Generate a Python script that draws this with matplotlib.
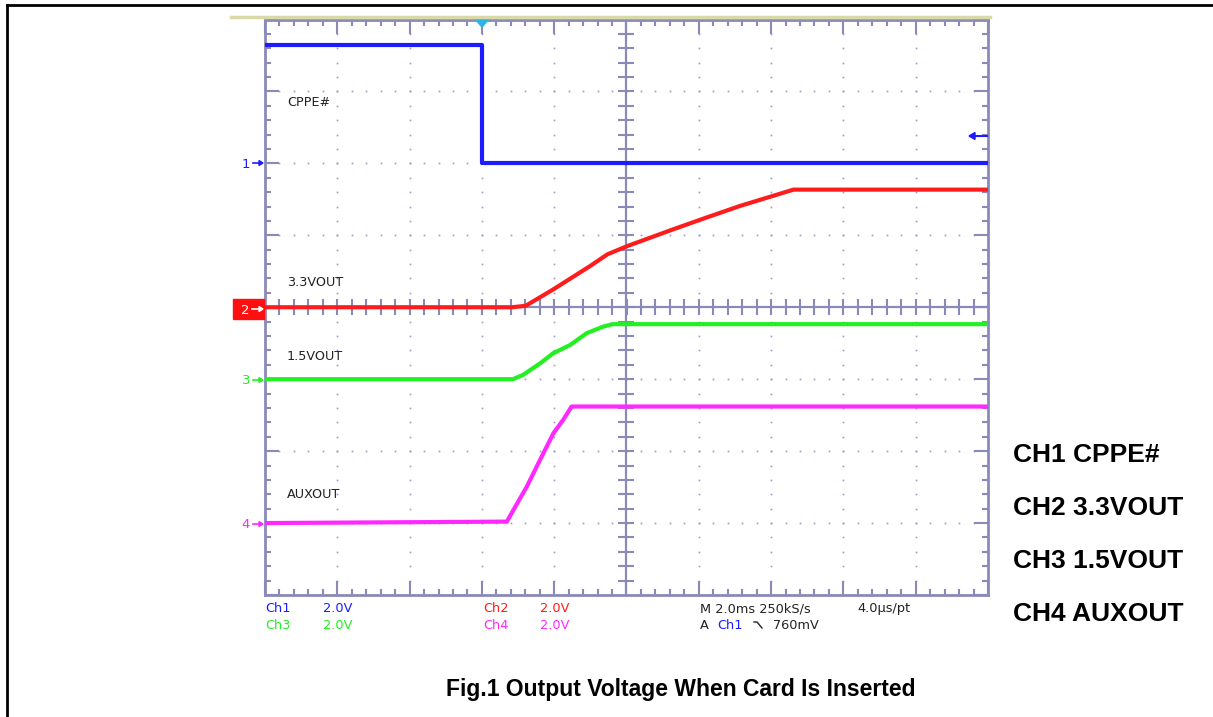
import matplotlib
matplotlib.use("Agg")
import matplotlib.pyplot as plt
from matplotlib.lines import Line2D
from matplotlib.patches import Rectangle, Polygon
import numpy as np

# ---------------- data (time in ms relative to trigger, volts) ----------------
ch1_t = [-6, 0, 0, 14]
ch1_v = [3.3, 3.3, 0.0, 0.0]

ch2_t = [-6, 0.83, 1.21, 1.98, 3.0, 3.47, 4.02, 5.30, 6.23, 7.15, 8.62, 14]
ch2_v = [0.0, 0.0, 0.04, 0.50, 1.15, 1.47, 1.70, 2.17, 2.50, 2.82, 3.27, 3.27]

ch3_t = [-6, 0.86, 1.14, 1.61, 1.97, 2.44, 2.90, 3.35, 3.62, 14]
ch3_v = [0.0, 0.0, 0.12, 0.44, 0.72, 0.95, 1.28, 1.46, 1.53, 1.53]

ch4_t = [-6, 0.69, 0.87, 1.24, 1.61, 1.98, 2.25, 2.48, 14]
ch4_v = [0.0, 0.04, 0.36, 1.01, 1.76, 2.50, 2.87, 3.24, 3.24]

channel_names = ["CPPE#", "3.3VOUT", "1.5VOUT", "AUXOUT"]
legend_labels = ["CH1 CPPE#", "CH2 3.3VOUT", "CH3 1.5VOUT", "CH4 AUXOUT"]
caption = "Fig.1 Output Voltage When Card Is Inserted"
volts_per_div = 2.0
ground_div = [6, 4, 3, 1]

# ---------------- figure ----------------
W, H = 1213, 717
fig = plt.figure(figsize=(W / 100, H / 100), dpi=100)
fig.patch.set_facecolor("white")

def fx(x):
    return x / W

def fy(y):
    return 1 - y / H

GRID = "#8a8ab8"
DOT = "#9a9ac4"
BLUE = "#1c1cff"
RED = "#ff1c1c"
GREEN = "#22f022"
MAGENTA = "#ff28ff"

L, R, T, B = 265, 988, 19.5, 595
ax = fig.add_axes([fx(L), fy(B), (R - L) / W, (B - T) / H])
ax.set_xlim(-6, 14)
ax.set_ylim(0, 8)
ax.set_facecolor("white")

for s in ax.spines.values():
    s.set_color(GRID)
    s.set_linewidth(2)

ax.set_xticks(np.arange(-6, 14.01, 2))
ax.set_xticks(np.arange(-6, 14.01, 0.4), minor=True)
ax.set_yticks(np.arange(0, 8.01, 1))
ax.set_yticks(np.arange(0, 8.01, 0.2), minor=True)
ax.tick_params(which="both", direction="in", top=True, right=True,
               labelbottom=False, labelleft=False, color=GRID, width=1.5)
ax.tick_params(which="major", length=10)
ax.tick_params(which="minor", length=4)

# dotted grid
for xv in [-4, -2, 0, 2, 6, 8, 10, 12]:
    ys = np.arange(0.2, 7.9, 0.2)
    ax.plot(np.full_like(ys, xv), ys, linestyle="none", marker="s",
            markersize=1.2, markeredgewidth=0, color=DOT, zorder=1)
for yv in [1, 2, 3, 5, 6, 7]:
    xs = np.arange(-5.6, 13.7, 0.4)
    ax.plot(xs, np.full_like(xs, yv), linestyle="none", marker="s",
            markersize=1.2, markeredgewidth=0, color=DOT, zorder=1)

# center crosshair with ticks
ax.axvline(4, color=GRID, lw=1.6, zorder=1)
ax.axhline(4, color=GRID, lw=1.6, zorder=1)
yc = np.arange(0.2, 7.9, 0.2)
ax.plot(np.full_like(yc, 4), yc, linestyle="none", marker="_",
        markersize=11, markeredgewidth=1.5, color=GRID, zorder=1)
xc = np.arange(-5.6, 13.7, 0.4)
ax.plot(xc, np.full_like(xc, 4), linestyle="none", marker="|",
        markersize=11, markeredgewidth=1.5, color=GRID, zorder=1)

# traces
def ypos(v, ch):
    return [ground_div[ch] + vv / volts_per_div for vv in v]

ax.plot(ch1_t, ypos(ch1_v, 0), color=BLUE, lw=3.0, zorder=3)
ax.plot(ch2_t, ypos(ch2_v, 1), color=RED, lw=3.0, zorder=3)
ax.plot(ch3_t, ypos(ch3_v, 2), color=GREEN, lw=3.0, zorder=3)
ax.plot(ch4_t, ypos(ch4_v, 3), color=MAGENTA, lw=3.0, zorder=3)

# channel name labels inside scope
for name, yy in zip(channel_names, [102.5, 282, 356, 495]):
    fig.text(fx(287), fy(yy), name, fontsize=9.2, color="#222222",
             ha="left", va="center", family="DejaVu Sans")

# khaki line at top
fig.add_artist(Line2D([fx(231), fx(990)], [fy(17), fy(17)], color="#d8d8a8", lw=2.5))

# trigger marker
fig.add_artist(Polygon([[fx(475), fy(19)], [fx(489), fy(19)], [fx(482), fy(27)]],
                       closed=True, color="#2cb4e4", transform=fig.transFigure))

# channel ground markers on the left
def arrow(x0, x1, y, color):
    fig.add_artist(Line2D([fx(x0), fx(x1)], [fy(y), fy(y)], color=color, lw=1.2))
    fig.add_artist(Polygon([[fx(x1 + 1), fy(y)], [fx(x1 - 3), fy(y - 2.5)], [fx(x1 - 3), fy(y + 2.5)]],
                           closed=True, color=color, transform=fig.transFigure))

fig.text(fx(246), fy(164), "1", color=BLUE, fontsize=9.5, ha="center", va="center")
arrow(253, 262, 163, BLUE)
fig.add_artist(Rectangle((fx(233), fy(319)), (264 - 233) / W, 20 / H, color="#ff1010",
                         transform=fig.transFigure))
fig.text(fx(245), fy(310), "2", color="white", fontsize=9.5, ha="center", va="center")
arrow(252, 262, 309, "white")
fig.text(fx(246), fy(381), "3", color=GREEN, fontsize=9.5, ha="center", va="center")
arrow(253, 262, 380, GREEN)
fig.text(fx(246), fy(525), "4", color=MAGENTA, fontsize=9.5, ha="center", va="center")
arrow(253, 262, 524, MAGENTA)

# right arrow (ch1 trigger level)
fig.add_artist(Line2D([fx(972), fx(987)], [fy(136), fy(136)], color=BLUE, lw=1.5))
fig.add_artist(Polygon([[fx(969), fy(136)], [fx(975), fy(132.5)], [fx(975), fy(139.5)]],
                       closed=True, color=BLUE, transform=fig.transFigure))

# bottom status text
FS = 9.3
r1, r2 = 608.5, 625.5
fig.text(fx(265), fy(r1), "Ch1", color=BLUE, fontsize=FS, va="center")
fig.text(fx(323), fy(r1), "2.0V", color=BLUE, fontsize=FS, va="center")
fig.text(fx(483), fy(r1), "Ch2", color=RED, fontsize=FS, va="center")
fig.text(fx(540), fy(r1), "2.0V", color=RED, fontsize=FS, va="center")
fig.text(fx(700), fy(r1), "M 2.0ms 250kS/s", color="#222222", fontsize=FS, va="center")
fig.text(fx(857), fy(r1), "4.0\u00b5s/pt", color="#222222", fontsize=FS, va="center")
fig.text(fx(265), fy(r2), "Ch3", color=GREEN, fontsize=FS, va="center")
fig.text(fx(323), fy(r2), "2.0V", color=GREEN, fontsize=FS, va="center")
fig.text(fx(483), fy(r2), "Ch4", color=MAGENTA, fontsize=FS, va="center")
fig.text(fx(540), fy(r2), "2.0V", color=MAGENTA, fontsize=FS, va="center")
fig.text(fx(700), fy(r2), "A", color="#222222", fontsize=FS, va="center")
fig.text(fx(717), fy(r2), "Ch1", color=BLUE, fontsize=FS, va="center")
fig.add_artist(Line2D([fx(754), fx(757), fx(762)], [fy(622), fy(622), fy(628)],
                      color="#222222", lw=1.0))
fig.text(fx(773), fy(r2), "760mV", color="#222222", fontsize=FS, va="center")

# right legend labels
for lab, yy in zip(legend_labels, [455.5, 508, 561, 614]):
    fig.text(fx(1013), fy(yy), lab, fontsize=19, fontweight="bold",
             family="Liberation Sans", ha="left", va="center", color="black")

# caption
fig.text(fx(680.5), fy(689.5), caption, fontsize=16.5, fontweight="bold",
         family="Liberation Sans", ha="center", va="center", color="black")

# page border (left and top)
fig.add_artist(Line2D([fx(6.5), fx(6.5)], [fy(5), fy(717)], color="black", lw=2))
fig.add_artist(Line2D([fx(6.5), fx(1213)], [fy(5), fy(5)], color="black", lw=2))

fig.savefig("out.png", dpi=100, facecolor="white")
